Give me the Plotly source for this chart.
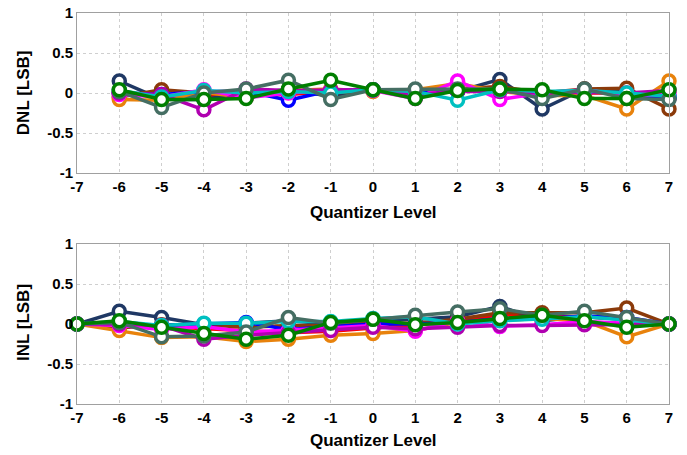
import plotly.graph_objects as go
from plotly.subplots import make_subplots

levels_dnl = list(range(-6, 8))
levels_inl = list(range(-7, 8))
x_ticks = list(range(-7, 8))
y_ticks = [-1, -0.5, 0, 0.5, 1]
y_tick_text = ["-1", "-0.5", "0", "0.5", "1"]

names = ["red", "navy", "brown", "orange", "blue", "magenta", "purple", "cyan", "slate", "green"]
colors = ["#FF0000", "#1F3864", "#8B3A0A", "#E8820C", "#0000FF", "#FF00FF", "#B000B0",
          "#00C0C0", "#456E63", "#007F00"]

dnl_red     = [0.00, -0.03, -0.03, -0.03, -0.02, 0.02, 0.04, 0.03, 0.03, 0.08, -0.03, 0.00, 0.00, -0.06]
dnl_navy    = [0.15, -0.08, -0.08, 0.00, 0.04, -0.04, 0.04, 0.03, 0.02, 0.17, -0.20, 0.05, 0.02, -0.05]
dnl_brown   = [-0.05, 0.04, 0.00, -0.03, 0.02, 0.00, 0.03, 0.00, 0.05, 0.08, 0.00, 0.05, 0.06, -0.20]
dnl_orange  = [-0.08, -0.09, 0.01, -0.06, 0.03, 0.05, 0.02, 0.04, 0.12, 0.02, -0.03, -0.03, -0.20, 0.15]
dnl_blue    = [0.00, -0.02, 0.02, 0.02, -0.09, 0.03, 0.04, 0.00, 0.02, 0.05, 0.00, 0.03, -0.02, -0.06]
dnl_magenta = [-0.02, -0.05, 0.04, -0.06, 0.00, 0.03, 0.03, -0.07, 0.15, -0.08, 0.00, 0.04, -0.03, -0.02]
dnl_purple  = [0.00, -0.02, -0.21, 0.05, 0.03, 0.03, 0.04, -0.02, 0.02, 0.02, 0.00, 0.01, 0.00, 0.03]
dnl_cyan    = [0.03, -0.05, 0.03, 0.00, 0.02, 0.00, 0.04, 0.02, -0.09, 0.04, 0.02, 0.03, 0.00, -0.04]
dnl_slate   = [0.02, -0.18, 0.00, 0.05, 0.16, -0.08, 0.04, 0.05, 0.05, 0.05, -0.07, 0.05, -0.07, -0.08]
dnl_green   = [0.04, -0.08, -0.08, -0.07, 0.05, 0.16, 0.04, -0.07, 0.03, 0.05, 0.04, -0.07, -0.07, 0.04]

inl_red     = [0, 0.00, -0.03, -0.06, -0.09, -0.11, -0.09, -0.05, -0.02, 0.03, 0.12, 0.09, 0.09, 0.06, 0]
inl_navy    = [0, 0.16, 0.08, -0.01, 0.01, 0.04, 0.00, 0.04, 0.06, 0.09, 0.22, 0.04, 0.09, 0.06, 0]
inl_brown   = [0, -0.05, -0.01, -0.01, -0.04, -0.02, -0.02, 0.01, 0.01, 0.06, 0.14, 0.14, 0.14, 0.20, 0]
inl_orange  = [0, -0.08, -0.17, -0.16, -0.22, -0.19, -0.14, -0.12, -0.08, 0.02, 0.05, 0.07, 0.04, -0.16, 0]
inl_blue    = [0, 0.00, -0.02, 0.00, 0.02, -0.07, -0.04, 0.00, 0.00, 0.02, 0.07, 0.07, 0.10, 0.08, 0]
inl_magenta = [0, -0.02, -0.07, -0.03, -0.10, -0.08, -0.05, -0.02, -0.09, 0.04, -0.03, -0.01, 0.03, 0.01, 0]
inl_purple  = [0, 0.00, -0.02, -0.19, -0.14, -0.11, -0.08, -0.04, -0.06, -0.04, -0.02, -0.02, -0.01, -0.01, 0]
inl_cyan    = [0, 0.03, -0.02, 0.01, 0.01, 0.03, 0.03, 0.07, 0.09, 0.00, 0.04, 0.06, 0.09, 0.05, 0]
inl_slate   = [0, 0.02, -0.16, -0.15, -0.10, 0.08, 0.01, 0.06, 0.11, 0.15, 0.19, 0.11, 0.16, 0.08, 0]
inl_green   = [0, 0.04, -0.04, -0.12, -0.19, -0.14, 0.02, 0.06, -0.01, 0.02, 0.07, 0.11, 0.04, -0.04, 0]

dnl_all = [dnl_red, dnl_navy, dnl_brown, dnl_orange, dnl_blue, dnl_magenta, dnl_purple,
           dnl_cyan, dnl_slate, dnl_green]
inl_all = [inl_red, inl_navy, inl_brown, inl_orange, inl_blue, inl_magenta, inl_purple,
           inl_cyan, inl_slate, inl_green]

fig = make_subplots(rows=2, cols=1)

for name, col, d, i in zip(names, colors, dnl_all, inl_all):
    style = dict(mode="lines+markers", line=dict(color=col, width=3.5),
                 marker=dict(symbol="circle", size=12, color="white",
                             line=dict(color=col, width=3.5)),
                 showlegend=False, name=name, cliponaxis=False)
    fig.add_trace(go.Scatter(x=levels_dnl, y=d, **style), row=1, col=1)
    fig.add_trace(go.Scatter(x=levels_inl, y=i, **style), row=2, col=1)

font_main = "Liberation Sans, Arial, sans-serif"
tick_font = dict(family=font_main, size=15, color="black", weight="bold")
title_font = dict(family=font_main, size=17, color="black", weight="bold")

axis_common = dict(showgrid=True, gridcolor="#CFCFCF", griddash="3px,3px", gridwidth=1,
                   showline=True, linecolor="#A0A0A0", linewidth=1, mirror=True,
                   zeroline=False, ticks="", tickfont=tick_font, automargin=False)

for r in (1, 2):
    fig.update_xaxes(range=[-7, 7], tickvals=x_ticks, ticktext=[str(v) for v in x_ticks],
                     row=r, col=1, **axis_common)
    fig.update_yaxes(range=[-1, 1], tickvals=y_ticks, ticktext=y_tick_text,
                     row=r, col=1, **axis_common)

annotations = [
    dict(text="Quantizer Level", x=0.5, y=0.4885),
    dict(text="Quantizer Level", x=0.5, y=-0.0946),
    dict(text="DNL [LSB]", x=-0.0912, y=0.795, textangle=-90),
    dict(text="INL [LSB]", x=-0.0912, y=0.207, textangle=-90),
]
for a in annotations:
    fig.add_annotation(xref="paper", yref="paper", showarrow=False,
                       xanchor="center", yanchor="middle", font=title_font, **a)

fig.update_layout(
    width=687, height=455,
    margin=dict(l=77, r=18, t=13, b=51),
    paper_bgcolor="white", plot_bgcolor="white",
    xaxis=dict(domain=[0, 1]), xaxis2=dict(domain=[0, 1]),
    yaxis=dict(domain=[0.5908, 1.0]), yaxis2=dict(domain=[0.0, 0.4092]),
)

fig.write_html("out.html", config={"displayModeBar": False},
               post_script="document.body.style.margin='0';")
